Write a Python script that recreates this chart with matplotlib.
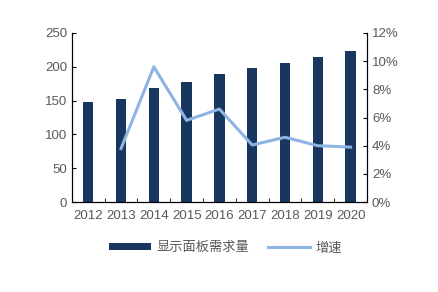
import matplotlib.pyplot as plt
import numpy as np

plt.rcParams['font.family'] = ['Liberation Sans', 'Noto Sans CJK SC', 'DejaVu Sans']

years = ['2012', '2013', '2014', '2015', '2016', '2017', '2018', '2019', '2020']
demand = [148, 153, 168, 178, 190, 198, 206, 214, 223]
growth_years = ['2013', '2014', '2015', '2016', '2017', '2018', '2019', '2020']
growth = [3.8, 9.6, 5.8, 6.6, 4.05, 4.6, 4.0, 3.9]

bar_color = '#17375E'
line_color = '#8EB4E3'
text_color = '#595959'

fig = plt.figure(figsize=(4.38, 2.92), dpi=100)
ax = fig.add_axes([0.164, 0.308, 0.674, 0.579])
x = np.arange(len(years))
ax.bar(x, demand, width=0.32, color=bar_color, label='显示面板需求量', zorder=2)
ax.set_xlim(-0.5, len(years) - 0.5)
ax.set_ylim(0, 250)
ax.set_yticks(range(0, 251, 50))
ax.set_xticks(x)
ax.set_xticklabels(years)
ax.set_xticks(np.arange(-0.5, len(years), 1), minor=True)
ax.tick_params(axis='x', which='major', length=0, pad=6)
ax.tick_params(axis='x', which='minor', direction='in', length=3)
ax.tick_params(axis='y', direction='in', length=3)
ax.tick_params(labelsize=9.5, labelcolor=text_color)
ax.spines['top'].set_visible(False)

ax2 = ax.twinx()
gx = [years.index(y) for y in growth_years]
ax2.plot(gx, growth, color=line_color, lw=2.2, label='增速', zorder=3)
ax2.set_ylim(0, 12)
ax2.set_yticks(range(0, 13, 2))
ax2.set_yticklabels([f'{v}%' for v in range(0, 13, 2)])
ax2.tick_params(axis='y', direction='in', length=3, labelsize=9.5, labelcolor=text_color)
ax2.spines['top'].set_visible(False)

h1, l1 = ax.get_legend_handles_labels()
h2, l2 = ax2.get_legend_handles_labels()
leg = fig.legend(h1 + h2, l1 + l2, loc='center', bbox_to_anchor=(0.515, 0.15), ncol=2,
                 frameon=False, fontsize=9.5, handlelength=3.2, handleheight=0.4,
                 columnspacing=1.4, handletextpad=0.4)
for t in leg.get_texts():
    t.set_color(text_color)

fig.savefig('out.png', dpi=100)
